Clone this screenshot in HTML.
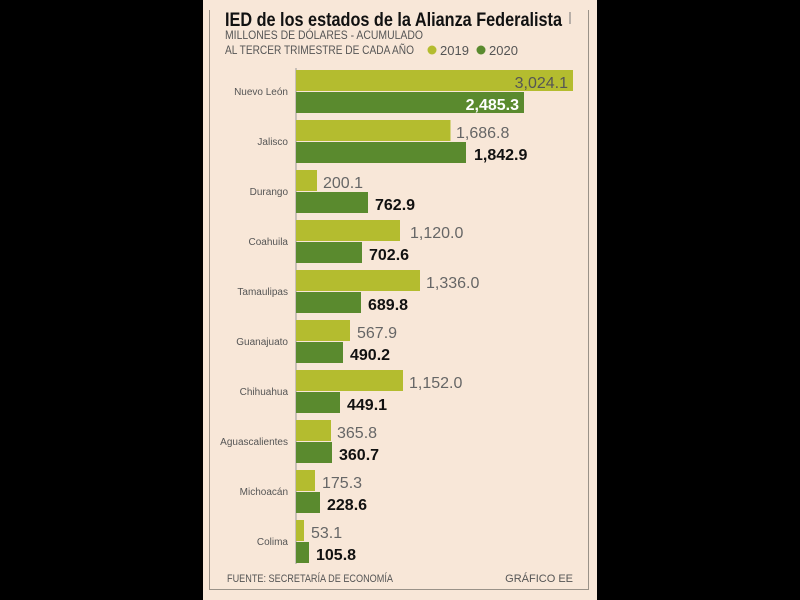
<!DOCTYPE html>
<html><head><meta charset="utf-8"><style>
body{margin:0;background:#000;width:800px;height:600px;overflow:hidden}
</style></head><body>
<svg width="800" height="600" xmlns="http://www.w3.org/2000/svg" font-family="Liberation Sans, sans-serif" style="display:block">
<rect x="0" y="0" width="800" height="600" fill="#000"/>
<rect x="203" y="0" width="394" height="600" fill="#f8e7d8"/>
<path d="M209.5 10 V589.5 H588.5 V10" fill="none" stroke="#9a9288"/>
<text x="225" y="26" font-size="19" font-weight="bold" fill="#111" textLength="337" lengthAdjust="spacingAndGlyphs">IED de los estados de la Alianza Federalista</text>
<line x1="570" y1="12" x2="570" y2="24" stroke="#777"/>
<text x="225" y="39" font-size="11.5" fill="#555" textLength="198" lengthAdjust="spacingAndGlyphs">MILLONES DE DÓLARES - ACUMULADO</text>
<text x="225" y="54" font-size="11.5" fill="#555" textLength="189" lengthAdjust="spacingAndGlyphs">AL TERCER TRIMESTRE DE CADA AÑO</text>
<circle cx="432" cy="50" r="4.5" fill="#b4bc2f"/>
<text x="440" y="55" font-size="13" fill="#555">2019</text>
<circle cx="481" cy="50" r="4.5" fill="#5a8a2e"/>
<text x="489" y="55" font-size="13" fill="#555">2020</text>
<line x1="296" y1="68" x2="296" y2="564" stroke="#999"/>
<g font-size="10" fill="#555" text-anchor="end">
<text x="288" y="95">Nuevo León</text>
<text x="288" y="145">Jalisco</text>
<text x="288" y="195">Durango</text>
<text x="288" y="245">Coahuila</text>
<text x="288" y="295">Tamaulipas</text>
<text x="288" y="345">Guanajuato</text>
<text x="288" y="395">Chihuahua</text>
<text x="288" y="445">Aguascalientes</text>
<text x="288" y="495">Michoacán</text>
<text x="288" y="545">Colima</text>
</g>
<g fill="#b4bc2f">
<rect x="296" y="70" width="277" height="21"/>
<rect x="296" y="120" width="154.5" height="21"/>
<rect x="296" y="170" width="21" height="21"/>
<rect x="296" y="220" width="104" height="21"/>
<rect x="296" y="270" width="124" height="21"/>
<rect x="296" y="320" width="54" height="21"/>
<rect x="296" y="370" width="107" height="21"/>
<rect x="296" y="420" width="35" height="21"/>
<rect x="296" y="470" width="19" height="21"/>
<rect x="296" y="520" width="8" height="21"/>
</g>
<g fill="#5a8a2e">
<rect x="296" y="92" width="228" height="21"/>
<rect x="296" y="142" width="170" height="21"/>
<rect x="296" y="192" width="72" height="21"/>
<rect x="296" y="242" width="66" height="21"/>
<rect x="296" y="292" width="65" height="21"/>
<rect x="296" y="342" width="47" height="21"/>
<rect x="296" y="392" width="44" height="21"/>
<rect x="296" y="442" width="36" height="21"/>
<rect x="296" y="492" width="24" height="21"/>
<rect x="296" y="542" width="13" height="21"/>
</g>
<text x="568" y="88" font-size="16" fill="#555" text-anchor="end">3,024.1</text>
<text x="519" y="110" font-size="16" font-weight="bold" fill="#fff" text-anchor="end">2,485.3</text>
<g font-size="16" fill="#666">
<text x="456" y="138">1,686.8</text>
<text x="323" y="188">200.1</text>
<text x="410" y="238">1,120.0</text>
<text x="426" y="288">1,336.0</text>
<text x="357" y="338">567.9</text>
<text x="409" y="388">1,152.0</text>
<text x="337" y="438">365.8</text>
<text x="322" y="488">175.3</text>
<text x="311" y="538">53.1</text>
</g>
<g font-size="16" font-weight="bold" fill="#111">
<text x="474" y="160">1,842.9</text>
<text x="375" y="210">762.9</text>
<text x="369" y="260">702.6</text>
<text x="368" y="310">689.8</text>
<text x="350" y="360">490.2</text>
<text x="347" y="410">449.1</text>
<text x="339" y="460">360.7</text>
<text x="327" y="510">228.6</text>
<text x="316" y="560">105.8</text>
</g>
<text x="227" y="582" font-size="11" fill="#555" textLength="166" lengthAdjust="spacingAndGlyphs">FUENTE: SECRETARÍA DE ECONOMÍA</text>
<text x="573" y="582" font-size="11" fill="#555" text-anchor="end">GRÁFICO EE</text>
</svg>
</body></html>
